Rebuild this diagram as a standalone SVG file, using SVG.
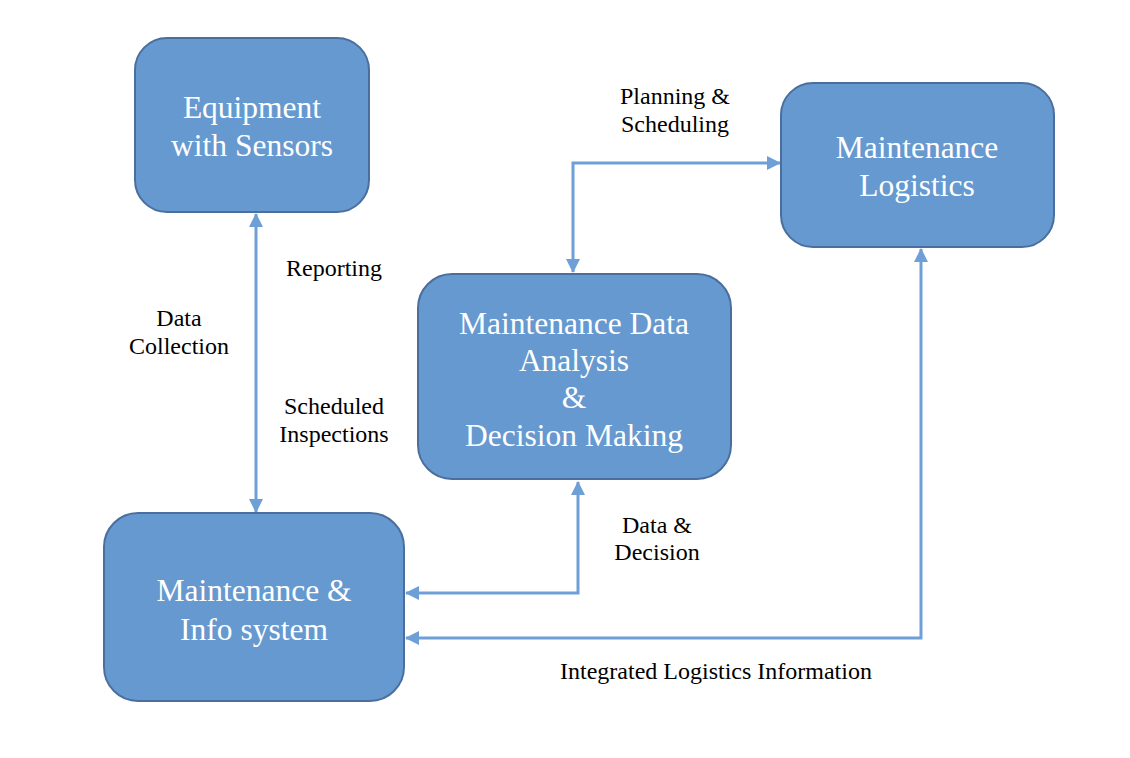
<svg xmlns="http://www.w3.org/2000/svg" width="1130" height="758" viewBox="0 0 1130 758">
<defs>
<style>
.box{fill:#6699cf;stroke:#4a6f9e;stroke-width:2}
.bt{font-family:"Liberation Serif","Times New Roman",serif;font-size:31.5px;fill:#ffffff;text-anchor:middle}
.lb{font-family:"Liberation Serif","Times New Roman",serif;font-size:24px;fill:#000000;text-anchor:middle}
.ln{fill:none;stroke:#6e9fd6;stroke-width:3}
</style>
<marker id="ah" markerUnits="userSpaceOnUse" markerWidth="14" markerHeight="14" viewBox="0 0 14 14" refX="13" refY="7" orient="auto-start-reverse">
<path d="M0,0 L14,7 L0,14 Z" fill="#6e9fd6"/>
</marker>
</defs>
<rect width="1130" height="758" fill="#ffffff"/>
<g id="connectors">
<line class="ln" x1="256" y1="214" x2="256" y2="512" marker-start="url(#ah)" marker-end="url(#ah)"/>
<polyline class="ln" points="573,272 573,163 780,163" marker-start="url(#ah)" marker-end="url(#ah)"/>
<polyline class="ln" points="578,482 578,593 406,593" marker-start="url(#ah)" marker-end="url(#ah)"/>
<polyline class="ln" points="921,249 921,638 406,638" marker-start="url(#ah)" marker-end="url(#ah)"/>
</g>
<g id="equipment">
<rect class="box" x="135" y="38" width="234" height="174" rx="32"/>
<text class="bt" x="252" y="118">Equipment</text>
<text class="bt" x="252" y="156">with Sensors</text>
</g>
<g id="logistics">
<rect class="box" x="781" y="83" width="273" height="164" rx="32"/>
<text class="bt" x="917" y="158">Maintenance</text>
<text class="bt" x="917" y="196">Logistics</text>
</g>
<g id="analysis">
<rect class="box" x="418" y="274" width="313" height="205" rx="34"/>
<text class="bt" x="574" y="334">Maintenance Data</text>
<text class="bt" x="574" y="371">Analysis</text>
<text class="bt" x="574" y="408">&amp;</text>
<text class="bt" x="574" y="446">Decision Making</text>
</g>
<g id="infosystem">
<rect class="box" x="104" y="513" width="300" height="188" rx="34"/>
<text class="bt" x="254" y="601">Maintenance &amp;</text>
<text class="bt" x="254" y="640">Info system</text>
</g>
<g id="labels">
<text class="lb" x="675" y="104">Planning &amp;</text>
<text class="lb" x="675" y="132">Scheduling</text>
<text class="lb" x="334" y="276">Reporting</text>
<text class="lb" x="179" y="326">Data</text>
<text class="lb" x="179" y="354">Collection</text>
<text class="lb" x="334" y="414">Scheduled</text>
<text class="lb" x="334" y="442">Inspections</text>
<text class="lb" x="657" y="533">Data &amp;</text>
<text class="lb" x="657" y="560">Decision</text>
<text class="lb" x="716" y="679">Integrated Logistics Information</text>
</g>
</svg>
